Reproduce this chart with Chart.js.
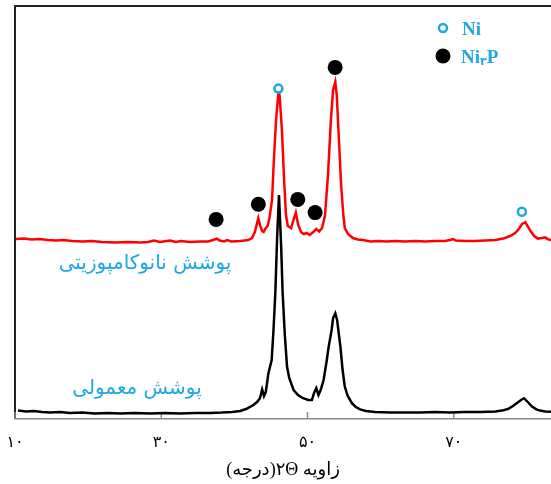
<!DOCTYPE html>
<html>
<head>
<meta charset="utf-8">
<script src="https://cdn.jsdelivr.net/npm/chart.js@4.4.1/dist/chart.umd.min.js"></script>
<style>
html,body{margin:0;padding:0;background:#fff;}
canvas{display:block;direction:rtl;}
</style>
</head>
<body>
<canvas id="c" width="551" height="484"></canvas>
<script>
// ---- data ----
const xTickValues = [10, 30, 50, 70];
const xTickLabels = ['۱۰', '۳۰', '۵۰', '۷۰'];
const xTitle = 'زاویه ۲Θ(درجه)';
const seriesNames = ['پوشش نانوکامپوزیتی', 'پوشش معمولی'];
const legendNames = ['Ni', 'Ni۳P'];

// nanocomposite coating (red)
const redX = [10.1,11.2,12.3,13.4,14.5,15.6,16.7,17.8,19.2,20.5,21.9,23.7,25.5,27.1,28.2,29.0,29.8,31.2,32.0,32.7,33.9,35.3,36.4,37.1,37.6,38.0,38.6,39.0,39.6,40.8,41.9,42.4,42.8,43.27,43.5,43.8,44.0,44.3,44.55,44.8,45.15,45.4,45.7,46.0,46.1,46.2,46.5,46.8,47.06,47.3,47.75,48.0,48.4,48.7,49.1,49.5,49.9,50.3,50.8,51.2,51.6,52.0,52.4,52.8,53.2,53.5,53.8,54.0,54.3,54.6,54.9,55.1,55.55,56.2,56.9,57.6,58.6,59.7,60.75,62.0,63.35,64.7,66.1,67.45,68.8,69.5,69.9,70.3,71.55,72.9,74.3,75.7,76.75,77.7,78.4,78.9,79.35,79.8,80.0,80.5,81.0,81.5,82.1,82.5,82.9,83.3];
const redY = [45.0,45.1,44.9,45.0,44.75,44.6,44.75,44.5,44.4,44.5,44.25,44.1,44.25,44.1,44.25,44.6,44.25,44.6,44.25,44.5,44.25,44.4,44.4,44.75,45.1,44.6,44.4,44.75,44.4,44.5,44.75,45.25,46.75,50.2,48.5,47.0,46.75,47.75,48.25,50.25,54.75,64.75,74.75,81.0,81.8,80.5,72.25,59.75,51.0,48.25,47.75,49.25,51.6,48.75,46.75,46.25,46.5,46.0,46.75,47.5,46.9,47.75,51.0,61.0,74.75,82.25,84.3,81.0,69.75,58.5,51.0,47.75,46.25,45.25,44.9,44.75,44.4,44.5,44.4,44.5,44.4,44.5,44.4,44.5,44.5,44.75,45.0,44.6,44.5,44.5,44.6,44.75,45.1,45.75,46.5,47.5,48.75,49.2,48.5,47.0,45.75,45.1,45.25,45.4,44.9,44.75];

// conventional coating (black)
const blackX = [10.4,11.5,12.6,13.7,14.8,16.2,17.5,19.2,20.9,22.7,24.4,26.4,28.5,30.5,32.6,34.6,36.7,38.3,39.7,40.8,41.6,42.6,43.1,43.5,43.8,44.05,44.3,44.65,45.1,45.35,45.6,45.85,46.1,46.4,46.6,46.9,47.2,47.5,48.1,48.7,49.4,50.1,50.6,50.9,51.2,51.5,51.8,52.2,52.6,52.9,53.3,53.5,53.8,54.05,54.5,54.8,55.1,55.5,56.1,56.6,57.2,58.0,59.25,61.3,63.35,65.4,67.45,69.5,71.55,73.6,75.7,76.6,77.4,78.1,78.65,79.2,79.6,80.0,80.7,81.3,81.8,82.5,83.3];
const blackY = [2.1,1.9,2.0,1.75,1.6,1.75,1.5,1.6,1.4,1.5,1.4,1.5,1.4,1.5,1.4,1.5,1.5,1.6,1.75,2.0,2.5,3.5,4.25,5.2,7.4,5.75,6.75,11.4,14.75,22.25,31.5,45.5,56.0,43.0,31.5,21.0,13.1,10.25,7.25,6.0,5.2,4.75,4.75,6.5,7.7,6.0,7.25,9.75,14.25,18.1,22.25,25.25,26.4,24.75,18.1,12.25,8.1,5.75,3.9,3.0,2.4,2.0,1.75,1.6,1.6,1.6,1.75,1.6,1.75,1.75,1.9,2.1,2.5,3.25,4.0,4.75,5.2,4.5,3.1,2.4,2.1,1.9,1.8];

// peak markers
const niX = [46.02, 79.32];
const niY = [82.6, 51.8];
const ni3pX = [37.5, 43.28, 48.67, 51.04, 53.78];
const ni3pY = [49.9, 53.7, 54.9, 51.6, 87.9];

const toPts = (xs, ys) => xs.map((x, i) => ({x, y: ys[i]}));
const CYAN = '#1EA7E4';

const decor = {
  id: 'decor',
  beforeDatasetsDraw(chart) {
    const {ctx, chartArea: a, scales: {x}} = chart;
    ctx.save();
    ctx.strokeStyle = '#222';
    ctx.lineWidth = 2;
    ctx.beginPath();
    ctx.moveTo(a.left, a.bottom);
    ctx.lineTo(a.left, a.top);
    ctx.lineTo(a.right + 2, a.top);
    ctx.stroke();
    ctx.strokeStyle = '#8c8c8c';
    ctx.lineWidth = 1.5;
    xTickValues.forEach(v => {
      const px = x.getPixelForValue(v);
      ctx.beginPath();
      ctx.moveTo(px, a.bottom);
      ctx.lineTo(px, a.bottom - 7);
      ctx.stroke();
    });
    ctx.restore();
  },
  afterDatasetsDraw(chart) {
    const {ctx, chartArea: a} = chart;
    ctx.save();
    ctx.fillStyle = CYAN;
    ctx.font = '20px "DejaVu Sans"';
    ctx.textAlign = 'center';
    ctx.textBaseline = 'middle';
    ctx.fillText(seriesNames[0], a.left + 130, a.top + 258);
    ctx.fillText(seriesNames[1], a.left + 122, a.top + 383);
    // legend
    ctx.direction = 'ltr';
    const lx = a.left + 428;
    ctx.lineWidth = 2.5;
    ctx.strokeStyle = CYAN;
    ctx.beginPath();
    ctx.arc(lx, a.top + 22, 4, 0, Math.PI * 2);
    ctx.stroke();
    ctx.fillStyle = '#000';
    ctx.beginPath();
    ctx.arc(lx, a.top + 50, 7.5, 0, Math.PI * 2);
    ctx.fill();
    ctx.fillStyle = CYAN;
    ctx.textAlign = 'left';
    ctx.font = 'bold 19px "Liberation Serif"';
    ctx.fillText(legendNames[0], lx + 19, a.top + 24);
    const parts = [legendNames[1].slice(0, 2), legendNames[1].slice(2, 3), legendNames[1].slice(3)];
    let tx = lx + 18;
    ctx.fillText(parts[0], tx, a.top + 52);
    tx += ctx.measureText(parts[0]).width;
    ctx.font = 'bold 11px "DejaVu Sans"';
    ctx.fillText(parts[1], tx, a.top + 56);
    tx += ctx.measureText(parts[1]).width;
    ctx.font = 'bold 19px "Liberation Serif"';
    ctx.fillText(parts[2], tx, a.top + 52);
    ctx.restore();
  }
};

new Chart(document.getElementById('c'), {
  type: 'line',
  data: {
    datasets: [
      {label: legendNames[0], data: toPts(niX, niY), type: 'scatter', order: 0, pointStyle: 'circle', pointRadius: 4, pointBorderWidth: 2.5, pointBorderColor: CYAN, pointBackgroundColor: '#fff', showLine: false},
      {label: legendNames[1], data: toPts(ni3pX, ni3pY), type: 'scatter', order: 0, pointStyle: 'circle', pointRadius: 7.5, pointBorderWidth: 0, pointBackgroundColor: '#000', pointBorderColor: '#000', showLine: false},
      {label: seriesNames[0], data: toPts(redX, redY), order: 1, borderColor: '#ff0000', borderWidth: 2.5, pointRadius: 0, tension: 0, fill: false},
      {label: seriesNames[1], data: toPts(blackX, blackY), order: 2, borderColor: '#000', borderWidth: 2.5, pointRadius: 0, tension: 0, fill: false}
    ]
  },
  options: {
    responsive: false,
    animation: false,
    events: [],
    layout: {autoPadding: false, padding: {left: 15, top: 6, right: 0, bottom: 0}},
    plugins: {legend: {display: false}, tooltip: {enabled: false}},
    scales: {
      x: {
        type: 'linear', min: 10, max: 83.3,
        afterBuildTicks: s => { s.ticks = xTickValues.map(v => ({value: v})); },
        afterFit: s => { s.height = 65; s.paddingLeft = 0; s.paddingRight = 0; },
        ticks: {
          padding: 14, color: '#000',
          font: {family: '"DejaVu Sans"', size: 16},
          callback: v => xTickLabels[xTickValues.indexOf(v)],
          maxRotation: 0, autoSkip: false
        },
        grid: {display: false, drawTicks: false},
        border: {display: true, color: '#8c8c8c', width: 1.5},
        title: {display: true, text: xTitle, color: '#000', font: {family: '"Liberation Serif", "DejaVu Sans"', size: 18}, padding: {top: 0, bottom: 3}}
      },
      y: {display: false, min: 0, max: 103.25}
    }
  },
  plugins: [decor]
});
</script>
</body>
</html>
